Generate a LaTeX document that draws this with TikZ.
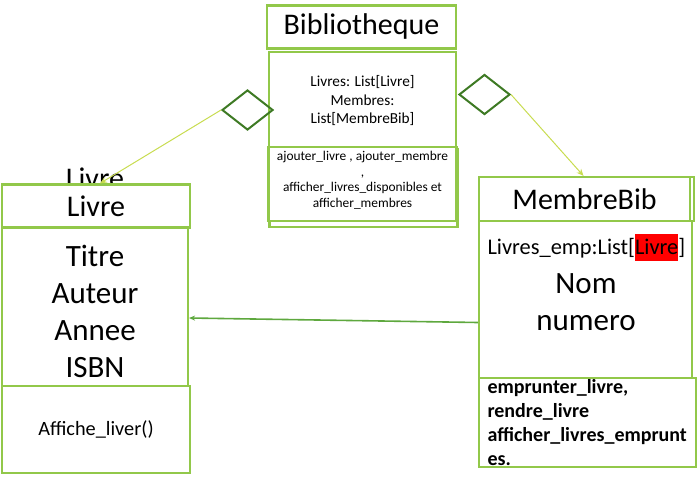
\documentclass[tikz,border=0pt]{standalone}
\usepackage{fontspec}
\setmainfont{Carlito}
\usetikzlibrary{shapes.geometric,arrows.meta,calc}
\definecolor{boxgreen}{HTML}{92C84A}
\definecolor{darkdiam}{HTML}{3E7A24}
\definecolor{limeline}{HTML}{C8DC50}
\definecolor{assocgreen}{HTML}{5EA83E}
\newcommand{\redmark}[1]{{\setlength{\fboxsep}{0pt}\colorbox{red}{\rule[-6.5pt]{0pt}{27pt}#1}}}
\begin{document}
\begin{tikzpicture}[x=1pt,y=-1pt,
  box/.style={draw=boxgreen, line width=2.2pt, fill=white, inner sep=0pt, align=center},
  agg/.style={draw=darkdiam, line width=2pt, diamond, inner sep=0pt, minimum width=51pt, minimum height=40pt},
  limearrow/.style={draw=limeline, line width=1pt, -{Stealth[length=7pt,width=6pt]}},
  assoc/.style={draw=assocgreen, line width=1.6pt, -{Stealth[length=6pt,width=5pt]}},
  head/.style={font=\fontsize{30}{37}\selectfont},
  big/.style={font=\fontsize{31}{37}\selectfont},
  mid/.style={font=\fontsize{20.3}{24}\selectfont},
  small/.style={font=\fontsize{15.3}{18.5}\selectfont},
  tiny/.style={font=\fontsize{13.4}{15.5}\selectfont}]
\useasboundingbox (0,0) rectangle (700,484);

% Bibliotheque class
\node[box, minimum width=187pt, minimum height=95pt] (bibattr) at (362.5,99.5) {};
\node[small, align=center] (bibattrtxt) at (362.5,101) {Livres: List[Livre]\\Membres:\\List[MembreBib]};
\node[box, minimum width=188pt, minimum height=78pt] (bibmethx) at (363.5,188) {};
\node[box, minimum width=188pt, minimum height=74pt] (bibmeth) at (362.5,184) {};
\node[tiny, anchor=north, align=center] (bibmethtxt) at (362.5,148) {ajouter\_livre , ajouter\_membre\\,\\afficher\_livres\_disponibles et\\afficher\_membres};
\node[box, minimum width=189pt, minimum height=43pt, head] (bibhead) at (361.5,27) {Bibliotheque};

% Livre class
\node[head] (livreghost) at (95,178) {Livre};
\node[box, minimum width=188pt, minimum height=43pt, head] (livrehead) at (96,206) {Livre};
\node[box, minimum width=186pt, minimum height=158pt] (livreattr) at (95,307) {};
\node[big, align=center] (livreattrtxt) at (95,311) {Titre\\Auteur\\Annee\\ISBN};
\node[box, minimum width=188pt, minimum height=87pt, mid] (livremeth) at (96,429.5) {Affiche\_liver()};

% MembreBib class
\node[box, minimum width=215pt, minimum height=44pt] (membrehout) at (586.5,199) {};
\node[box, minimum width=211pt, minimum height=44pt, head] (membrehead) at (584.5,199) {MembreBib};
\node[box, minimum width=213pt, minimum height=157pt] (membreattr) at (585.5,299.5) {};
\node[font=\fontsize{22.4}{24}\selectfont, anchor=west] (membreemp) at (484,247) {Livres\_emp:List[\redmark{Livre}]};
\node[big, align=center] (membrenom) at (586,302) {Nom\\numero};
\node[box, minimum width=217pt, minimum height=89pt] (membremeth) at (587.5,422.5) {};
\node[font=\fontsize{20}{24}\selectfont\bfseries, anchor=north west, align=left] (membremethtxt) at (484,376) {emprunter\_livre,\\rendre\_livre\\afficher\_livres\_emprunt\\es.};

% Aggregation diamonds and links
\node[agg] (aggl) at (247.5,110) {};
\node[agg] (aggr) at (484.5,94.5) {};
\draw[limearrow] (aggl.west) -- ($(livrehead.north)+(4,0)$);
\draw[limearrow] (aggr.east) -- ($(membrehead.north)+(-1,0)$);

% Association MembreBib -> Livre
\draw[assoc] ($(membreattr.west)+(0,23)$) -- ($(livreattr.east)+(0,11)$);
\end{tikzpicture}
\end{document}
